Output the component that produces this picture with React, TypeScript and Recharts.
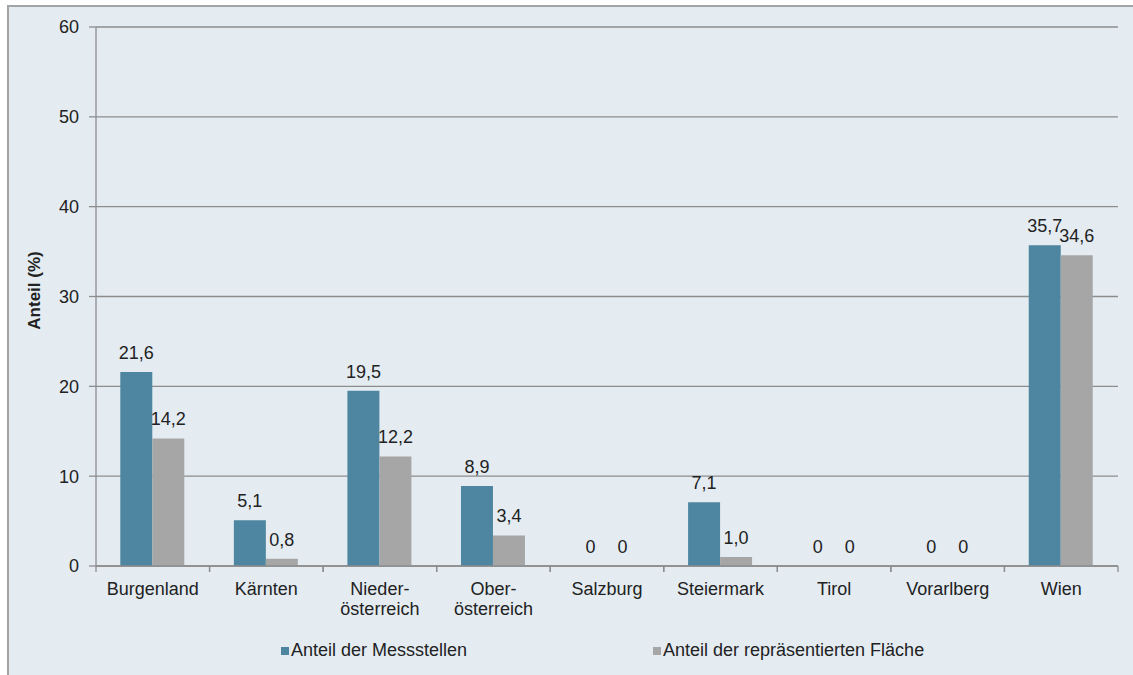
import React from 'react';
import {
  BarChart,
  Bar,
  XAxis,
  YAxis,
  CartesianGrid,
  LabelList,
  Legend,
  Label,
} from 'recharts';

// Bundesländer (line breaks mark the wrapped axis labels)
const categories = [
  'Burgenland',
  'Kärnten',
  'Nieder-\nösterreich',
  'Ober-\nösterreich',
  'Salzburg',
  'Steiermark',
  'Tirol',
  'Vorarlberg',
  'Wien',
];

// Anteil der Messstellen (%)
const messstellen = [21.6, 5.1, 19.5, 8.9, 0, 7.1, 0, 0, 35.7];
// Anteil der repräsentierten Fläche (%)
const flaeche = [14.2, 0.8, 12.2, 3.4, 0, 1.0, 0, 0, 34.6];

const yTicks = [0, 10, 20, 30, 40, 50, 60];

const seriesNames = ['Anteil der Messstellen', 'Anteil der repräsentierten Fläche'];
const BLUE = '#4E86A1';
const GREY = '#A6A6A6';
const BG = '#E4ECF2';
const TEXT = '#222222';
const LINE = '#8C8C8C';
const FONT = '"Liberation Sans", Arial, sans-serif';
const FS = 18;

const data = categories.map((name, i) => ({
  name,
  messstellen: messstellen[i],
  flaeche: flaeche[i],
}));

const fmt = (v: number) => (v === 0 ? '0' : v.toFixed(1).replace('.', ','));

// keep zero bars in the layout so that their "0" label is still drawn
const keepZero = (v: any) => (Number(v) === 0 ? 0.01 : 0);

// value label drawn above each bar
const ValueLabel = (props: any) => {
  const { x, y, width, height, value } = props;
  const top = Math.min(Number(y), Number(y) + Number(height || 0));
  return (
    <text
      x={Number(x) + Number(width) / 2}
      y={top - 13}
      textAnchor="middle"
      fill={TEXT}
      fontSize={FS}
      fontFamily={FONT}
    >
      {fmt(Number(value))}
    </text>
  );
};

// category label plus tick marks at the category boundaries
const CategoryTick = (props: any) => {
  const { x, y, payload } = props;
  const half = Number(payload.offset) || 0;
  const lines = String(payload.value).split('\n');
  return (
    <g>
      <line x1={x - half} x2={x - half} y1={y} y2={y + 6} stroke={LINE} strokeWidth={1.3} />
      <line x1={x + half} x2={x + half} y1={y} y2={y + 6} stroke={LINE} strokeWidth={1.3} />
      <text x={x} y={y + 16} textAnchor="middle" fill={TEXT} fontSize={FS} fontFamily={FONT}>
        {lines.map((ln, i) => (
          <tspan key={i} x={x} dy={i === 0 ? '0.71em' : 20}>
            {ln}
          </tspan>
        ))}
      </text>
    </g>
  );
};

const YTitle = (props: any) => {
  const { viewBox } = props;
  const cx = viewBox.x + 34;
  const cy = viewBox.y + viewBox.height / 2 - 6;
  return (
    <text
      x={cx}
      y={cy}
      transform={`rotate(-90, ${cx}, ${cy})`}
      textAnchor="middle"
      dominantBaseline="central"
      fill={TEXT}
      fontSize={17}
      fontWeight="bold"
      fontFamily={FONT}
    >
      Anteil (%)
    </text>
  );
};

const LegendContent = () => {
  const items = [
    { name: seriesNames[0], color: BLUE, left: 281 },
    { name: seriesNames[1], color: GREY, left: 653 },
  ];
  return (
    <div style={{ position: 'relative', width: '100%', height: 49 }}>
      {items.map((it) => (
        <div
          key={it.name}
          style={{
            position: 'absolute',
            left: it.left,
            top: 0,
            height: 49,
            display: 'flex',
            alignItems: 'center',
            fontFamily: FONT,
            fontSize: FS,
            color: TEXT,
            whiteSpace: 'nowrap',
          }}
        >
          <span
            style={{
              display: 'inline-block',
              width: 8,
              height: 8,
              background: it.color,
              marginRight: 2,
            }}
          />
          {it.name}
        </div>
      ))}
    </div>
  );
};

export default function App() {
  return (
    <div
      style={{
        position: 'absolute',
        left: 0,
        top: 0,
        width: 1133,
        height: 675,
        background: '#ffffff',
        overflow: 'hidden',
      }}
    >
      <div
        style={{
          position: 'absolute',
          left: 7,
          top: 5,
          width: 1140,
          height: 690,
          background: BG,
          borderLeft: '2px solid #A3A3A3',
          borderTop: '2px solid #A3A3A3',
        }}
      />
      <div style={{ position: 'absolute', left: 0, top: 0 }}>
        <BarChart
          width={1133}
          height={675}
          data={data}
          margin={{ top: 27, right: 15, bottom: 0, left: 0 }}
          barCategoryGap="21.4%"
          barGap={0}
        >
          <CartesianGrid vertical={false} stroke={LINE} strokeWidth={1.3} />
          <XAxis
            dataKey="name"
            height={60}
            stroke={LINE}
            strokeWidth={1.3}
            tickLine={false}
            tickSize={0}
            tickMargin={0}
            interval={0}
            tick={<CategoryTick />}
          />
          <YAxis
            width={96}
            domain={[0, 60]}
            ticks={yTicks}
            tickSize={7}
            tickMargin={10}
            stroke={LINE}
            strokeWidth={1.3}
            tick={{ fill: TEXT, fontSize: FS, fontFamily: FONT }}
          >
            <Label content={<YTitle />} />
          </YAxis>
          <Legend
            verticalAlign="bottom"
            height={49}
            content={<LegendContent />}
            wrapperStyle={{ left: 0, width: 1133, bottom: 0, height: 49 }}
          />
          <Bar
            dataKey="messstellen"
            name={seriesNames[0]}
            fill={BLUE}
            minPointSize={keepZero}
            isAnimationActive={false}
          >
            <LabelList dataKey="messstellen" content={<ValueLabel />} />
          </Bar>
          <Bar
            dataKey="flaeche"
            name={seriesNames[1]}
            fill={GREY}
            minPointSize={keepZero}
            isAnimationActive={false}
          >
            <LabelList dataKey="flaeche" content={<ValueLabel />} />
          </Bar>
        </BarChart>
      </div>
    </div>
  );
}
